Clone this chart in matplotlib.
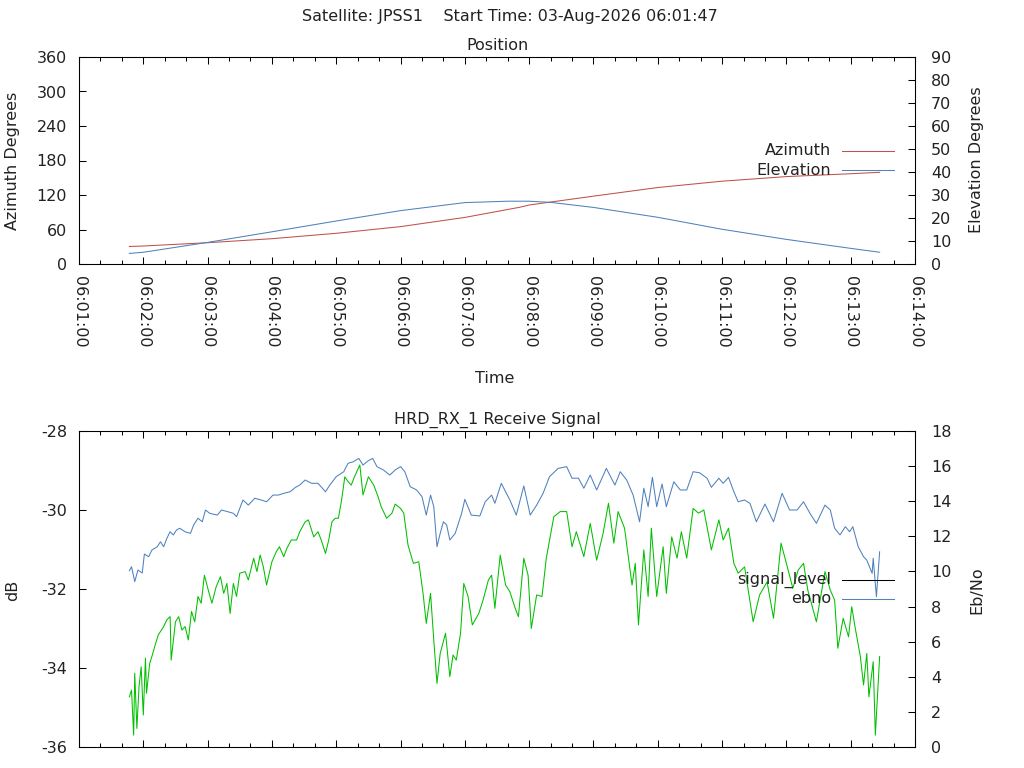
import matplotlib
matplotlib.use("Agg")
import matplotlib.pyplot as plt
from matplotlib.ticker import MultipleLocator, FuncFormatter

# Pass info
satellite = "JPSS1"
start_time = "03-Aug-2026 06:01:47"

# Position (time in seconds after 06:01:00)
pos_t = [47, 60, 120, 180, 240, 300, 360, 411, 420, 480, 540, 600, 660, 720, 747]
azimuth = [30.5, 31.3, 37.0, 44.0, 53.4, 65.0, 81.0, 98.6, 102.6, 118.0, 133.0,
           144.0, 152.0, 157.0, 159.5]
elev_t = [47, 60, 120, 180, 240, 300, 360, 400, 420, 440, 480, 540, 600, 660, 720, 747]
elevation = [4.6, 5.1, 9.4, 14.0, 18.7, 23.2, 26.7, 27.3, 27.3, 26.8, 24.6, 20.3,
             15.1, 10.7, 6.8, 5.1]

# Receive signal level (dB)
sig_t = [47, 49, 51, 52, 54, 56, 58, 60, 62, 63,
         66, 68, 71, 74, 79, 82, 85, 86, 90, 93,
         96, 99, 102, 105, 108, 111, 114, 117, 121, 124,
         128, 132, 135, 138, 141, 144, 147, 150, 155, 158,
         163, 166, 169, 172, 175, 180, 184, 187, 191, 194,
         198, 203, 206, 211, 214, 219, 223, 226, 230, 233,
         236, 239, 242, 245, 248, 251, 254, 257, 262, 265,
         270, 275, 279, 282, 287, 292, 295, 300, 303, 307,
         312, 317, 321, 324, 328, 331, 334, 337, 342, 346,
         349, 352, 356, 359, 363, 367, 373, 377, 382, 385,
         388, 393, 398, 402, 407, 410, 415, 419, 422, 427,
         432, 436, 443, 449, 455, 460, 464, 471, 477, 483,
         489, 494, 499, 503, 509, 516, 519, 522, 527, 531,
         534, 539, 545, 548, 553, 558, 562, 567, 573, 578,
         583, 590, 597, 601, 606, 611, 615, 621, 629, 635,
         642, 648, 655, 660, 666, 671, 676, 680, 688, 696,
         701, 705, 708, 713, 718, 721, 724, 729, 732, 735,
         737, 741, 743, 745, 747]
signal_level = [-34.73, -34.56, -35.70, -34.13, -35.53, -34.47, -33.97, -35.19, -33.75, -34.64,
                -33.88, -33.71, -33.42, -33.16, -32.95, -32.78, -32.70, -33.80, -32.83, -32.70,
                -33.04, -32.95, -33.29, -32.57, -32.83, -32.19, -32.36, -31.65, -32.07, -32.36,
                -31.94, -31.69, -32.11, -31.86, -32.62, -31.86, -32.19, -31.60, -31.56, -31.77,
                -31.22, -31.56, -31.14, -31.44, -31.90, -31.31, -31.06, -30.93, -31.18, -30.97,
                -30.76, -30.76, -30.55, -30.30, -30.25, -30.68, -30.55, -30.76, -31.10, -30.76,
                -30.30, -30.21, -30.21, -29.75, -29.16, -29.28, -29.37, -29.16, -28.86, -29.62,
                -29.16, -29.37, -29.66, -29.92, -30.21, -30.08, -29.85, -29.96, -30.08, -30.89,
                -31.35, -31.31, -32.11, -32.87, -32.11, -33.29, -34.39, -33.63, -33.12, -34.22,
                -33.67, -33.80, -33.12, -31.86, -32.19, -32.91, -32.62, -32.28, -31.77, -31.65,
                -32.49, -31.14, -31.90, -32.07, -32.49, -32.70, -31.22, -31.65, -33.00, -32.15,
                -32.19, -31.22, -30.17, -30.04, -30.04, -30.93, -30.55, -31.18, -30.34, -31.27,
                -30.59, -29.83, -30.84, -30.04, -30.46, -31.90, -31.35, -32.91, -31.01, -32.19,
                -30.46, -32.19, -30.93, -32.11, -30.68, -31.22, -30.55, -31.22, -29.96, -30.08,
                -30.00, -31.01, -30.25, -30.76, -30.46, -31.35, -31.60, -31.44, -32.83, -32.15,
                -31.82, -32.74, -30.84, -31.35, -31.98, -31.52, -31.35, -32.03, -32.83, -31.56,
                -32.03, -32.28, -33.50, -32.74, -33.21, -32.45, -32.95, -33.71, -34.43, -33.63,
                -34.73, -33.84, -35.70, -34.73, -33.71]

# Eb/No
ebno_t = [47, 49, 52, 55, 59, 61, 65, 68, 73, 76,
          79, 82, 85, 88, 91, 94, 99, 104, 107, 111,
          115, 118, 122, 129, 133, 139, 144, 147, 153, 158,
          164, 170, 175, 181, 186, 191, 197, 202, 206, 211,
          217, 223, 230, 234, 240, 247, 251, 256, 261, 265,
          270, 274, 278, 284, 290, 295, 300, 304, 309, 315,
          320, 324, 328, 331, 334, 337, 340, 343, 346, 351,
          357, 360, 366, 374, 379, 385, 388, 394, 402, 408,
          415, 421, 427, 433, 439, 447, 455, 460, 466, 471,
          477, 483, 492, 500, 505, 511, 517, 523, 527, 531,
          535, 539, 544, 548, 555, 561, 567, 573, 579, 586,
          590, 597, 601, 606, 611, 615, 621, 626, 632, 640,
          648, 656, 663, 670, 676, 682, 688, 696, 701, 705,
          710, 715, 719, 722, 727, 732, 735, 740, 741, 744,
          747]
ebno = [10.04, 10.27, 9.42, 10.08, 9.91, 10.99, 10.84, 11.22, 11.41, 11.69,
        11.41, 11.89, 12.26, 12.08, 12.36, 12.46, 12.26, 12.17, 12.65, 13.03,
        12.83, 13.50, 13.31, 13.21, 13.50, 13.40, 13.31, 13.12, 14.07, 13.78,
        14.17, 14.07, 13.97, 14.35, 14.35, 14.45, 14.54, 14.79, 14.92, 15.21,
        15.02, 15.02, 14.54, 14.92, 15.40, 15.68, 16.16, 16.25, 16.44, 16.06,
        16.31, 16.44, 15.97, 15.78, 15.49, 15.78, 15.97, 15.68, 14.83, 14.64,
        14.26, 13.21, 14.35, 13.69, 11.41, 12.17, 12.83, 12.65, 11.79, 12.17,
        13.31, 14.11, 13.21, 13.16, 13.97, 14.35, 13.88, 15.02, 14.07, 13.21,
        14.87, 13.21, 13.78, 14.45, 15.40, 15.87, 15.97, 15.31, 15.31, 14.74,
        15.49, 14.64, 15.87, 14.92, 15.68, 15.21, 14.35, 12.83, 14.74, 13.69,
        15.36, 13.69, 14.98, 13.69, 15.11, 14.64, 14.64, 15.68, 15.62, 15.31,
        14.79, 15.31, 15.02, 15.36, 14.54, 13.97, 14.07, 13.88, 12.83, 13.84,
        12.83, 14.45, 13.50, 13.50, 13.97, 13.31, 12.74, 13.78, 13.50, 12.46,
        12.08, 12.55, 12.26, 12.55, 11.41, 10.84, 10.65, 9.89, 10.75, 8.56,
        11.12]

RED = "#c0504d"
BLUE = "#4f81bd"
GREEN = "#00c000"
FS = 11.5

plt.rcParams["font.family"] = "DejaVu Sans"
plt.rcParams["font.size"] = FS
plt.rcParams["axes.unicode_minus"] = False
plt.rcParams["text.color"] = "#222222"
plt.rcParams["xtick.labelcolor"] = "#222222"
plt.rcParams["ytick.labelcolor"] = "#222222"


def hms(s, pos=None):
    s = int(round(s)) + 6 * 3600 + 60
    return "%02d:%02d:%02d" % (s // 3600, (s // 60) % 60, s % 60)


def style_axes(ax, ax2, show_xlabels):
    ax.set_xlim(0, 780)
    ax.xaxis.set_major_locator(MultipleLocator(60))
    ax.xaxis.set_minor_locator(MultipleLocator(20))
    ax.xaxis.set_major_formatter(FuncFormatter(hms))
    ax.tick_params(axis="x", which="major", direction="in", length=5, width=0.75,
                   top=True, bottom=True, labelbottom=show_xlabels, pad=8.5,
                   labelrotation=-90)
    ax.tick_params(axis="x", which="minor", direction="in", length=2.8, width=0.75,
                   top=True, bottom=True)
    ax.tick_params(axis="y", which="both", direction="in", length=5, width=0.75,
                   left=True, right=False, pad=8.5)
    ax2.tick_params(axis="y", which="both", direction="in", length=5, width=0.75,
                    left=False, right=True, pad=11.5)
    for a in (ax, ax2):
        for sp in a.spines.values():
            sp.set_linewidth(0.75)
    if show_xlabels:
        for lbl in ax.get_xticklabels():
            lbl.set_va("top")
            lbl.set_ha("center")


def key(ax, entries):
    # gnuplot style key: right-justified text, line sample to the right
    for label, color, y in entries:
        ax.text(0.8995, y, label, transform=ax.transAxes, ha="right", va="center",
                fontsize=FS)
        ax.plot([0.9127, 0.9749], [y, y], transform=ax.transAxes, color=color,
                lw=0.75, clip_on=False)


fig = plt.figure(figsize=(10.24, 7.68), dpi=100)

# Position panel
ax1 = fig.add_axes([79 / 1024, 1 - 264 / 768, 836 / 1024, 207 / 768])
ax1b = ax1.twinx()
ax1.plot(pos_t, azimuth, color=RED, lw=0.75)
ax1b.plot(elev_t, elevation, color=BLUE, lw=0.75)
ax1.set_ylim(0, 360)
ax1.set_yticks(range(0, 361, 60))
ax1b.set_ylim(0, 90)
ax1b.set_yticks(range(0, 91, 10))
style_axes(ax1, ax1b, True)
key(ax1b, [("Azimuth", RED, 0.546), ("Elevation", BLUE, 0.454)])

# Receive signal panel
ax2 = fig.add_axes([79 / 1024, 1 - 747 / 768, 836 / 1024, 316 / 768])
ax2b = ax2.twinx()
ax2.plot(sig_t, signal_level, color=GREEN, lw=0.75)
ax2b.plot(ebno_t, ebno, color=BLUE, lw=0.75)
ax2.set_ylim(-36, -28)
ax2.set_yticks(range(-36, -27, 2))
ax2b.set_ylim(0, 18)
ax2b.set_yticks(range(0, 19, 2))
style_axes(ax2, ax2b, False)
key(ax2b, [("signal_level", "black", 0.5285), ("ebno", BLUE, 0.4684)])

# Titles and axis labels
fig.text(510 / 1024, 1 - 17 / 768, "Satellite: %s    Start Time: %s" % (satellite, start_time),
         ha="center", va="center")
fig.text(497 / 1024, 1 - 46 / 768, "Position", ha="center", va="center")
fig.text(497 / 1024, 1 - 420 / 768, "HRD_RX_1 Receive Signal", ha="center", va="center")
fig.text(495 / 1024, 1 - 379 / 768, "Time", ha="center", va="center")
fig.text(13 / 1024, 1 - 161 / 768, "Azimuth Degrees", rotation=90, ha="center", va="center")
fig.text(977 / 1024, 1 - 160 / 768, "Elevation Degrees", rotation=90, ha="center", va="center")
fig.text(13 / 1024, 1 - 590 / 768, "dB", rotation=90, ha="center", va="center")
fig.text(977 / 1024, 1 - 590 / 768, "Eb/No", rotation=90, ha="center", va="center")

fig.savefig("out.png", dpi=100)
